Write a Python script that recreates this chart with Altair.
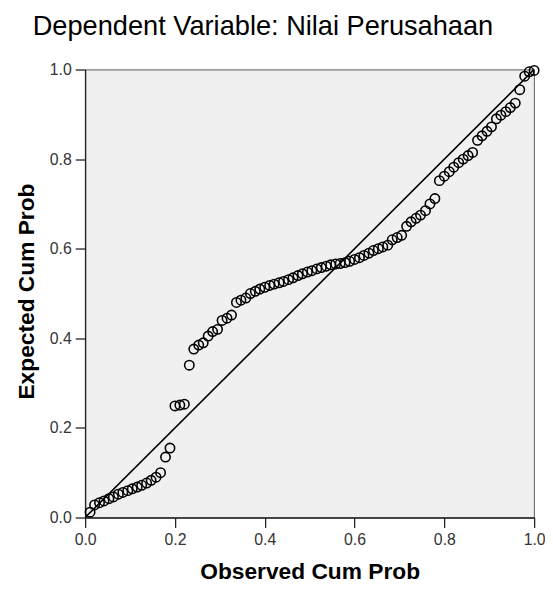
import altair as alt
import pandas as pd

# Observed cumulative probability (x) and expected cumulative probability (y)
observed = [0.011, 0.021, 0.032, 0.042, 0.053, 0.063, 0.074, 0.084, 0.095, 0.105,
            0.116, 0.126, 0.137, 0.147, 0.158, 0.168, 0.179, 0.189, 0.200, 0.211,
            0.221, 0.232, 0.242, 0.253, 0.263, 0.274, 0.284, 0.295, 0.305, 0.316,
            0.326, 0.337, 0.347, 0.358, 0.368, 0.379, 0.389, 0.400, 0.411, 0.421,
            0.432, 0.442, 0.453, 0.463, 0.474, 0.484, 0.495, 0.505, 0.516, 0.526,
            0.537, 0.547, 0.558, 0.568, 0.579, 0.589, 0.600, 0.611, 0.621, 0.632,
            0.642, 0.653, 0.663, 0.674, 0.684, 0.695, 0.705, 0.716, 0.726, 0.737,
            0.747, 0.758, 0.768, 0.779, 0.789, 0.800, 0.811, 0.821, 0.832, 0.842,
            0.853, 0.863, 0.874, 0.884, 0.895, 0.905, 0.916, 0.926, 0.937, 0.947,
            0.958, 0.968, 0.979, 0.989, 1.000]
expected = [0.012, 0.028, 0.033, 0.037, 0.042, 0.046, 0.052, 0.056, 0.060, 0.064,
            0.068, 0.072, 0.077, 0.083, 0.090, 0.100, 0.135, 0.155, 0.249, 0.251,
            0.253, 0.340, 0.376, 0.385, 0.390, 0.405, 0.415, 0.420, 0.440, 0.445,
            0.452, 0.480, 0.485, 0.490, 0.500, 0.505, 0.510, 0.514, 0.518, 0.521,
            0.524, 0.527, 0.531, 0.535, 0.540, 0.544, 0.548, 0.551, 0.555, 0.558,
            0.561, 0.564, 0.566, 0.567, 0.569, 0.572, 0.576, 0.580, 0.585, 0.590,
            0.596, 0.600, 0.604, 0.608, 0.620, 0.625, 0.630, 0.650, 0.660, 0.668,
            0.675, 0.685, 0.700, 0.712, 0.752, 0.762, 0.772, 0.782, 0.792, 0.800,
            0.808, 0.815, 0.842, 0.852, 0.862, 0.872, 0.890, 0.898, 0.906, 0.915,
            0.925, 0.955, 0.985, 0.995, 0.998]

ref_x = [0.0, 1.0]
ref_y = [0.0, 1.0]

pts = pd.DataFrame({"obs": observed, "exp": expected})
ref = pd.DataFrame({"obs": ref_x, "exp": ref_y})

FONT = "Arial, Liberation Sans, sans-serif"

xscale = alt.Scale(domain=[0, 1], nice=False, zero=False)
yscale = alt.Scale(domain=[0, 1], nice=False, zero=False)

xaxis = alt.Axis(title="Observed Cum Prob", values=[0, 0.2, 0.4, 0.6, 0.8, 1.0], format=".1f",
                 titleBaseline="alphabetic", titleY=62)
yaxis = alt.Axis(title="Expected Cum Prob", values=[0, 0.2, 0.4, 0.6, 0.8, 1.0], format=".1f",
                 titleAngle=-90, titleBaseline="alphabetic", titleX=-52, titleY=224,
                 titleAlign="center")

line = alt.Chart(ref).mark_line(color="black", strokeWidth=1.6, clip=True).encode(
    x=alt.X("obs:Q", scale=xscale, axis=xaxis),
    y=alt.Y("exp:Q", scale=yscale, axis=yaxis),
)

points = alt.Chart(pts).mark_point(shape="circle", filled=False, color="black",
                                   size=90, strokeWidth=1.6, opacity=1).encode(
    x=alt.X("obs:Q", scale=xscale),
    y=alt.Y("exp:Q", scale=yscale),
)

chart = (line + points).properties(
    width=454, height=453,
    autosize=alt.AutoSizeParams(type="none"),
    padding={"left": 78, "top": 59, "right": 11, "bottom": 63},
    background="white",
    title=alt.TitleParams("Dependent Variable: Nilai Perusahaan", anchor="start", frame="group",
                          dx=-53, dy=15, fontSize=27.5, fontWeight="normal", font=FONT, color="black",
                          baseline="alphabetic", offset=14),
).configure_view(
    fill="#f0f0f0", stroke="#7a7a7a", strokeWidth=1.2
).configure_axis(
    grid=False, domainColor="#222222", domainWidth=1.3, tickColor="#222222", tickWidth=1.3,
    tickSize=10, labelFont=FONT, labelFontSize=16, labelColor="#333333", labelPadding=4,
    titleFont=FONT, titleFontSize=23, titleFontWeight="bold", titleColor="black",
    labelFlush=False, labelOverlap=False
)

chart.save("out.html", embed_options={"renderer": "svg", "actions": False})
